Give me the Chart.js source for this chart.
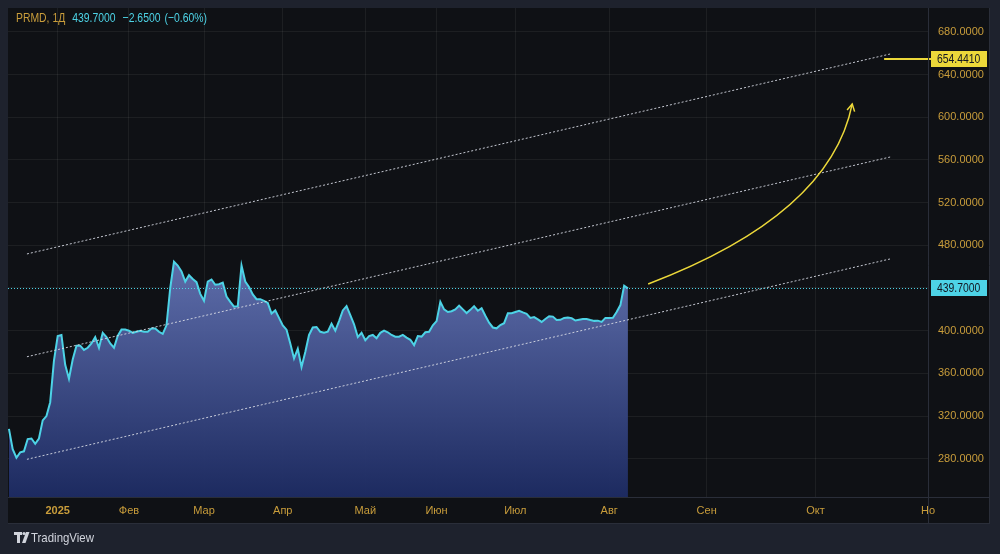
<!DOCTYPE html>
<html>
<head>
<meta charset="utf-8">
<script src="https://cdn.jsdelivr.net/npm/chart.js@4.4.1/dist/chart.umd.min.js"></script>
<style>
  html, body { margin: 0; padding: 0; background: #1e222d; }
  canvas { display: block; }
</style>
</head>
<body>
<canvas id="chart" width="1000" height="554"></canvas>
<script>
// Daily closes for PRMD (one value per trading bar)
const closes = [
  308, 289, 281, 286, 287, 298.5, 299, 294, 299, 316,
  320, 333, 372, 395, 396, 368, 355, 373, 386, 386,
  382, 384, 388, 394, 384, 398, 394, 388, 384, 395,
  401, 401, 400, 398, 399, 400, 399, 399, 402, 402,
  399, 397, 405, 440, 464.6, 461, 455.5, 446, 452, 448.4,
  445.5, 434.5, 428, 446, 448, 443, 443.5, 445, 432, 427,
  422.5, 423, 461, 446, 441, 434, 429.5, 429.5, 428, 426,
  416, 419, 412, 405, 401, 388, 374, 383, 366, 380,
  396, 403, 403.5, 399, 398, 399, 406.5, 400, 409, 419,
  423, 414.5, 406, 394, 398, 391, 395, 396, 393, 398,
  400, 398.5, 396, 394.4, 394.4, 396, 393.5, 391.5, 386.5, 395,
  394.5, 398.5, 399, 405, 409, 427, 420, 417.5, 418.2, 420,
  423.5, 420, 416.5, 419.5, 423, 418.7, 421, 414, 407.5, 403,
  402.2, 405.3, 407, 416.3, 416.3, 417.5, 418.7, 417.1, 415.8, 412,
  412.8, 410.6, 408.2, 411, 413.5, 413.2, 410, 410.2, 412, 412.4,
  411.8, 409.5, 410.3, 411, 411, 410, 409.2, 409.4, 408.3, 412,
  412, 412.1, 417.5, 424, 442.2, 439.7
];

// Month boundaries (bar index) and their labels
const monthTicks = [13, 32, 52, 73, 95, 114, 135, 160, 186, 215, 245];
const monthLabels = ["2025", "Фев", "Мар", "Апр", "Май", "Июн", "Июл", "Авг", "Сен", "Окт", "Но"];

const priceTicks = [280, 320, 360, 400, 440, 480, 520, 560, 600, 640, 680];

const symbol = "PRMD, 1Д";
const lastPrice = 439.7;
const priceChange = -2.65;
const priceChangePct = -0.6;
const targetPrice = 654.441;
const targetFromBar = 233.3;

// Parallel channel drawn on the chart: [bar, price] anchors
const channelUpper = [[4.8, 471.9], [234.9, 659.2]];
const channelMiddle = [[4.8, 375.6], [234.9, 562.7]];
const channelLower = [[4.8, 279.5], [234.9, 467.2]];

// Curved forecast arrow: start, control, end as [bar, price]
const arrowFrom = [170.4, 443.7];
const arrowCtrl = [218.9, 508.4];
const arrowTo = [224.8, 612.4];

const FONT = '"Liberation Sans Narrow", "Liberation Sans", Arial, sans-serif';
const GOLD = "#c99d3b";
const CYAN = "#4dd3e6";
const YELLOW = "#ecd83a";

function fmt(v) {
  return v.toFixed(4).replace("-", "\u2212");
}

function toPoints(pairs) {
  return pairs.map(([x, y]) => ({ x, y }));
}

function channelDataset(pairs) {
  return {
    data: toPoints(pairs),
    borderColor: "rgba(215,218,228,0.9)",
    borderWidth: 1,
    borderDash: [2, 2],
    pointRadius: 0,
    fill: false,
    order: 0,
  };
}

// Draw text squeezed horizontally, the TradingView UI font is narrow
function narrowText(ctx, text, x, y, squeeze) {
  ctx.save();
  ctx.translate(x, y);
  ctx.scale(squeeze, 1);
  ctx.fillText(text, 0, 0);
  ctx.restore();
  return ctx.measureText(text).width * squeeze;
}

const tvPlugin = {
  id: "tvPlugin",
  beforeDraw(chart) {
    const ctx = chart.ctx;
    ctx.save();
    ctx.fillStyle = "#1e222d";
    ctx.fillRect(0, 0, chart.width, chart.height);
    ctx.fillStyle = "#0f1115";
    ctx.fillRect(8, 8, 982, 515);
    ctx.restore();
  },
  afterDatasetsDraw(chart) {
    const ctx = chart.ctx;
    const xs = chart.scales.x;
    const ys = chart.scales.y;
    const area = chart.chartArea;
    ctx.save();

    // last price dotted line
    const yLast = Math.round(ys.getPixelForValue(lastPrice)) + 0.5;
    ctx.strokeStyle = CYAN;
    ctx.lineWidth = 1;
    ctx.setLineDash([1, 2]);
    ctx.beginPath();
    ctx.moveTo(area.left, yLast);
    ctx.lineTo(area.right, yLast);
    ctx.stroke();
    ctx.setLineDash([]);

    // target level line
    const yT = ys.getPixelForValue(targetPrice);
    ctx.strokeStyle = YELLOW;
    ctx.lineWidth = 2;
    ctx.beginPath();
    ctx.moveTo(xs.getPixelForValue(targetFromBar), yT);
    ctx.lineTo(area.right + 4, yT);
    ctx.stroke();

    // forecast arrow
    const p0 = [xs.getPixelForValue(arrowFrom[0]), ys.getPixelForValue(arrowFrom[1])];
    const pc = [xs.getPixelForValue(arrowCtrl[0]), ys.getPixelForValue(arrowCtrl[1])];
    const p2 = [xs.getPixelForValue(arrowTo[0]), ys.getPixelForValue(arrowTo[1])];
    ctx.strokeStyle = YELLOW;
    ctx.lineWidth = 1.5;
    ctx.beginPath();
    ctx.moveTo(p0[0], p0[1]);
    ctx.quadraticCurveTo(pc[0], pc[1], p2[0], p2[1]);
    ctx.stroke();
    const ang = Math.atan2(p2[1] - pc[1], p2[0] - pc[0]);
    const len = 8;
    ctx.beginPath();
    ctx.moveTo(p2[0] - len * Math.cos(ang - 0.5), p2[1] - len * Math.sin(ang - 0.5));
    ctx.lineTo(p2[0], p2[1]);
    ctx.lineTo(p2[0] - len * Math.cos(ang + 0.5), p2[1] - len * Math.sin(ang + 0.5));
    ctx.stroke();
    ctx.restore();
  },
  afterDraw(chart) {
    const ctx = chart.ctx;
    const ys = chart.scales.y;
    const area = chart.chartArea;
    ctx.save();

    // pane separators
    ctx.strokeStyle = "#2a2e39";
    ctx.lineWidth = 1;
    ctx.beginPath();
    ctx.moveTo(area.right + 0.5, 8);
    ctx.lineTo(area.right + 0.5, 523);
    ctx.moveTo(8, area.bottom + 0.5);
    ctx.lineTo(990, area.bottom + 0.5);
    ctx.moveTo(989.5, 8);
    ctx.lineTo(989.5, 523);
    ctx.moveTo(8, 523.5);
    ctx.lineTo(990, 523.5);
    ctx.stroke();

    // price label boxes on the right axis
    function priceBox(value, bg) {
      const y = Math.round(ys.getPixelForValue(value));
      ctx.fillStyle = bg;
      ctx.fillRect(area.right + 3, y - 8, 56, 16);
      ctx.fillStyle = "#131722";
      ctx.font = "13px " + FONT;
      ctx.textAlign = "left";
      ctx.textBaseline = "middle";
      narrowText(ctx, fmt(value), area.right + 9, y + 0.5, 0.8);
    }
    priceBox(lastPrice, CYAN);
    priceBox(targetPrice, YELLOW);

    // legend header
    ctx.font = "13px " + FONT;
    ctx.textAlign = "left";
    ctx.textBaseline = "middle";
    const sq = 0.8;
    let x = 16;
    const yHead = 18;
    ctx.fillStyle = GOLD;
    x += narrowText(ctx, symbol, x, yHead, sq) + 7;
    ctx.fillStyle = CYAN;
    const parts = [
      lastPrice.toFixed(4),
      fmt(priceChange),
      "(" + priceChangePct.toFixed(2).replace("-", "\u2212") + "%)",
    ];
    parts.forEach((t, i) => {
      x += narrowText(ctx, t, x, yHead, sq) + (i === 0 ? 7 : 4);
    });

    // TradingView mark
    ctx.fillStyle = "#d1d4dc";
    ctx.fillRect(14, 532, 8, 3);
    ctx.fillRect(17, 532, 3, 11);
    ctx.beginPath();
    ctx.arc(24, 533.5, 1.6, 0, Math.PI * 2);
    ctx.fill();
    ctx.beginPath();
    ctx.moveTo(26, 532);
    ctx.lineTo(29.5, 532);
    ctx.lineTo(25.5, 543);
    ctx.lineTo(22, 543);
    ctx.closePath();
    ctx.fill();
    ctx.font = "13px " + FONT;
    narrowText(ctx, "TradingView", 31, 538, 0.88);
    ctx.restore();
  },
};

const ctx = document.getElementById("chart").getContext("2d");

new Chart(ctx, {
  type: "line",
  data: {
    datasets: [
      {
        data: closes.map((v, i) => ({ x: i, y: v })),
        borderColor: CYAN,
        borderWidth: 2,
        pointRadius: 0,
        tension: 0,
        fill: "start",
        order: 1,
        backgroundColor: (c) => {
          const chart = c.chart;
          const area = chart.chartArea;
          if (!area) return "rgba(80,95,160,0.9)";
          const top = chart.scales.y.getPixelForValue(465);
          const g = chart.ctx.createLinearGradient(0, top, 0, area.bottom);
          g.addColorStop(0, "rgba(98,114,178,0.95)");
          g.addColorStop(1, "rgba(29,43,98,0.97)");
          return g;
        },
      },
      channelDataset(channelUpper),
      channelDataset(channelMiddle),
      channelDataset(channelLower),
    ],
  },
  options: {
    responsive: false,
    animation: false,
    events: [],
    layout: { padding: { left: 8, top: 8, right: 10, bottom: 31 } },
    plugins: {
      legend: { display: false },
      tooltip: { enabled: false },
    },
    scales: {
      x: {
        type: "linear",
        min: -0.25,
        max: 245,
        afterBuildTicks: (scale) => {
          scale.ticks = monthTicks.map((v) => ({ value: v }));
        },
        afterFit: (scale) => {
          scale.height = 26;
          scale.paddingLeft = 0;
          scale.paddingRight = 0;
        },
        grid: { color: "rgba(255,255,255,0.06)", drawTicks: false },
        border: { display: false },
        ticks: {
          autoSkip: false,
          maxRotation: 0,
          padding: 7,
          color: GOLD,
          font: (c) => ({
            family: FONT,
            size: 11,
            weight: c.tick && c.tick.value === monthTicks[0] ? "bold" : "normal",
          }),
          callback: (v) => {
            const i = monthTicks.indexOf(v);
            return i >= 0 ? monthLabels[i] : "";
          },
        },
      },
      y: {
        position: "right",
        min: 244.2,
        max: 702.3,
        afterBuildTicks: (scale) => {
          scale.ticks = priceTicks.map((v) => ({ value: v }));
        },
        afterFit: (scale) => {
          scale.width = 62;
          scale.paddingTop = 0;
          scale.paddingBottom = 0;
        },
        grid: { color: "rgba(255,255,255,0.06)", drawTicks: false },
        border: { display: false },
        ticks: {
          padding: 10,
          color: GOLD,
          font: { family: FONT, size: 11 },
          callback: (v) => fmt(v),
        },
      },
    },
  },
  plugins: [tvPlugin],
});
</script>
</body>
</html>
